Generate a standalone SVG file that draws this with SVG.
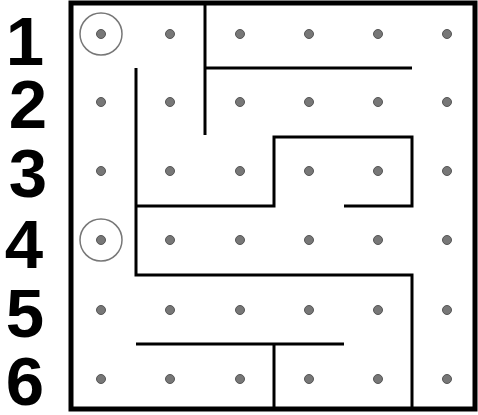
<svg xmlns="http://www.w3.org/2000/svg" width="478" height="415" viewBox="0 0 478 415">
<style>
.lbl{font-family:"Liberation Sans",Arial,sans-serif;font-weight:bold;font-size:69px;fill:#000;text-anchor:middle}
.dot{fill:#777;stroke:#555;stroke-width:1}
.wall{fill:none;stroke:#000;stroke-width:3;stroke-linejoin:miter}
.mark{fill:none;stroke:#777;stroke-width:1.5}
</style>
<rect width="478" height="415" fill="#fff"/>
<g id="labels">
<text class="lbl" x="25" y="65">1</text>
<text class="lbl" x="28" y="128">2</text>
<text class="lbl" x="28" y="197">3</text>
<text class="lbl" x="24" y="268">4</text>
<text class="lbl" x="25" y="337">5</text>
<text class="lbl" x="25" y="405">6</text>
</g>
<g id="border">
<rect x="71" y="3" width="404" height="406" fill="none" stroke="#000" stroke-width="5"/>
</g>
<g id="walls">
<path class="wall" d="M205,4 V135"/>
<path class="wall" d="M205,68 H412"/>
<path class="wall" d="M136,68 V275 H412 V409"/>
<path class="wall" d="M136,206 H274 V137 H412 V206 H344"/>
<path class="wall" d="M136,344 H344"/>
<path class="wall" d="M274,344 V409"/>
</g>
<g id="dots">
<g id="row1"><circle class="dot" cx="101" cy="34" r="4.5"/><circle class="dot" cx="170" cy="34" r="4.5"/><circle class="dot" cx="240" cy="34" r="4.5"/><circle class="dot" cx="309" cy="34" r="4.5"/><circle class="dot" cx="378" cy="34" r="4.5"/><circle class="dot" cx="447" cy="34" r="4.5"/></g>
<g id="row2"><circle class="dot" cx="101" cy="102" r="4.5"/><circle class="dot" cx="170" cy="102" r="4.5"/><circle class="dot" cx="240" cy="102" r="4.5"/><circle class="dot" cx="309" cy="102" r="4.5"/><circle class="dot" cx="378" cy="102" r="4.5"/><circle class="dot" cx="447" cy="102" r="4.5"/></g>
<g id="row3"><circle class="dot" cx="101" cy="171" r="4.5"/><circle class="dot" cx="170" cy="171" r="4.5"/><circle class="dot" cx="240" cy="171" r="4.5"/><circle class="dot" cx="309" cy="171" r="4.5"/><circle class="dot" cx="378" cy="171" r="4.5"/><circle class="dot" cx="447" cy="171" r="4.5"/></g>
<g id="row4"><circle class="dot" cx="101" cy="240" r="4.5"/><circle class="dot" cx="170" cy="240" r="4.5"/><circle class="dot" cx="240" cy="240" r="4.5"/><circle class="dot" cx="309" cy="240" r="4.5"/><circle class="dot" cx="378" cy="240" r="4.5"/><circle class="dot" cx="447" cy="240" r="4.5"/></g>
<g id="row5"><circle class="dot" cx="101" cy="310" r="4.5"/><circle class="dot" cx="170" cy="310" r="4.5"/><circle class="dot" cx="240" cy="310" r="4.5"/><circle class="dot" cx="309" cy="310" r="4.5"/><circle class="dot" cx="378" cy="310" r="4.5"/><circle class="dot" cx="447" cy="310" r="4.5"/></g>
<g id="row6"><circle class="dot" cx="101" cy="379" r="4.5"/><circle class="dot" cx="170" cy="379" r="4.5"/><circle class="dot" cx="240" cy="379" r="4.5"/><circle class="dot" cx="309" cy="379" r="4.5"/><circle class="dot" cx="378" cy="379" r="4.5"/><circle class="dot" cx="447" cy="379" r="4.5"/></g>
</g>
<g id="markers">
<circle class="mark" cx="101" cy="34" r="21"/>
<circle class="mark" cx="101" cy="240" r="21"/>
</g>
</svg>
